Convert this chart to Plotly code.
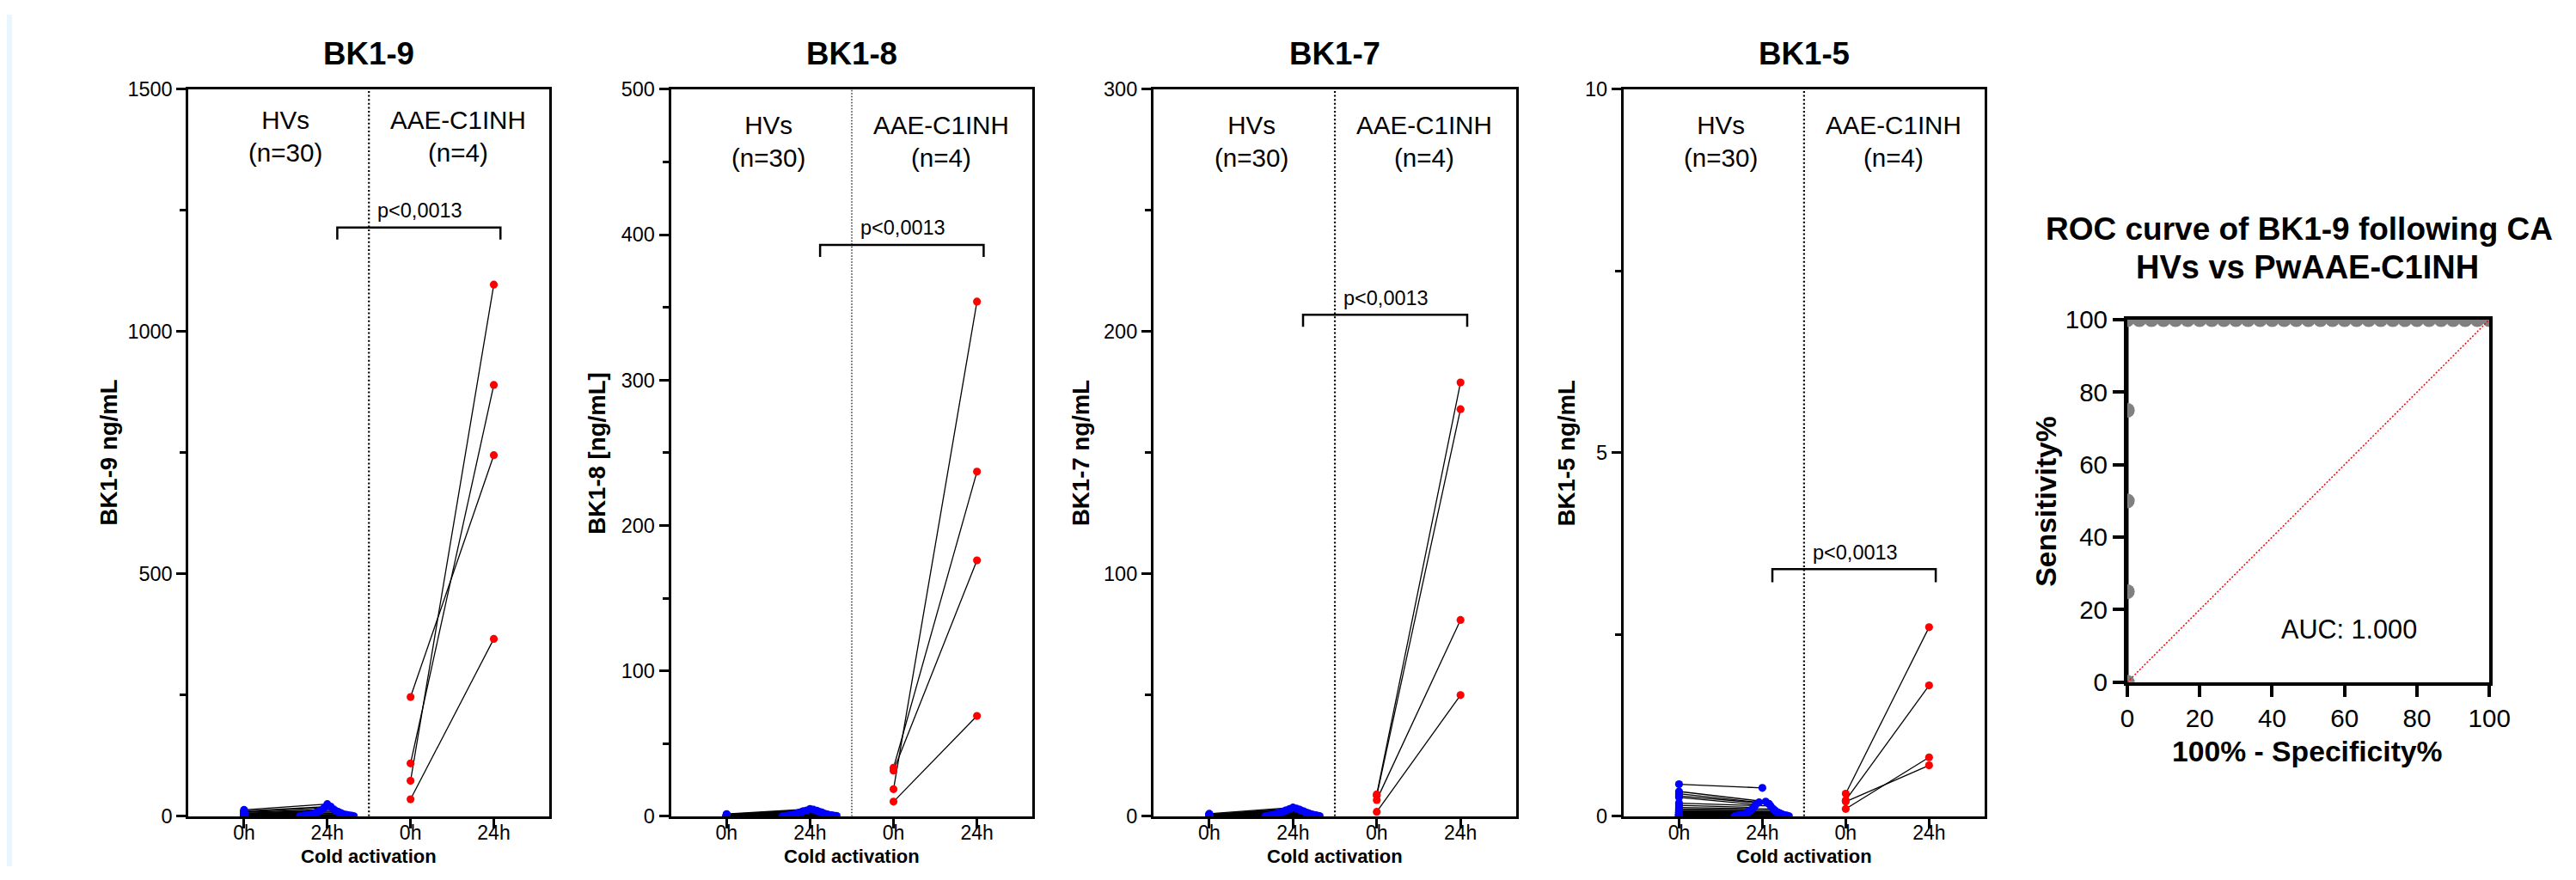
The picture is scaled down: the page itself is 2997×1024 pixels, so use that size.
import plotly.graph_objects as go

W, H = 2997, 1024
FONT = "Liberation Sans, Arial, Helvetica, sans-serif"

# ---------------- data ----------------
PANEL_TITLES = ["BK1-9", "BK1-8", "BK1-7", "BK1-5"]
Y_TITLES = ["BK1-9 ng/mL", "BK1-8 [ng/mL]", "BK1-7 ng/mL", "BK1-5 ng/mL"]
X_TICK_LABELS = ["0h", "24h", "0h", "24h"]
X_TITLE = "Cold activation"
HV_LABEL = "HVs<br>(n=30)"
AAE_LABEL = "AAE-C1INH<br>(n=4)"
P_LABEL = "p<0,0013"

Y_MAX = [1500, 500, 300, 10]
Y_MAJOR = [[0, 500, 1000, 1500], [0, 100, 200, 300, 400, 500], [0, 100, 200, 300], [0, 5, 10]]
Y_MINOR = [[250, 750, 1250], [50, 150, 250, 350, 450], [50, 150, 250], [2.5, 7.5]]

# BK1-9
BK19_HV_0H = [13, 11, 9, 8, 6, 5, 4, 4, 3, 3, 2, 2, 2, 1, 1, 1, 1, 0, 0, 0, 0, 0, 0, 0, 0, 0, 0, 0, 0, 0]
BK19_HV_24H = [25, 20, 17, 14, 12, 11, 10, 9, 8, 7, 6, 6, 5, 4, 4, 3, 3, 3, 2, 2, 2, 1, 1, 1, 1, 0, 0, 0, 0, 0]
BK19_AAE_0H = [246, 109, 73, 35]
BK19_AAE_24H = [745, 890, 1097, 366]
# BK1-8
BK18_HV_0H = [1.5, 1.2, 1, 0.8, 0.6, 0.5, 0.4, 0.3, 0.3, 0.2, 0.2, 0.1, 0.1, 0.1, 0, 0, 0, 0, 0, 0, 0, 0, 0, 0, 0, 0, 0, 0, 0, 0]
BK18_HV_24H = [5, 4.5, 4, 3.8, 3.5, 3.2, 3, 2.8, 2.5, 2.3, 2, 1.8, 1.6, 1.5, 1.3, 1.2, 1, 0.9, 0.8, 0.7, 0.6, 0.5, 0.4, 0.3, 0.3, 0.2, 0.1, 0.1, 0, 0]
BK18_AAE_0H = [18.6, 33.3, 31.4, 10]
BK18_AAE_24H = [354, 237, 176, 69]
# BK1-7
BK17_HV_0H = [1, 0.8, 0.6, 0.5, 0.4, 0.3, 0.3, 0.2, 0.2, 0.1, 0.1, 0.1, 0, 0, 0, 0, 0, 0, 0, 0, 0, 0, 0, 0, 0, 0, 0, 0, 0, 0]
BK17_HV_24H = [3.6, 3.2, 3, 2.7, 2.5, 2.3, 2.1, 2, 1.8, 1.6, 1.5, 1.4, 1.2, 1.1, 1, 0.9, 0.8, 0.7, 0.6, 0.5, 0.4, 0.4, 0.3, 0.2, 0.2, 0.1, 0.1, 0, 0, 0]
BK17_AAE_0H = [9, 8.5, 6.7, 1.8]
BK17_AAE_24H = [179, 168, 81, 50]
# BK1-5
BK15_HV_0H = [0.44, 0.34, 0.31, 0.28, 0.26, 0.18, 0.15, 0.12, 0.1, 0.08, 0.07, 0.06, 0.05, 0.05, 0.04, 0.03, 0.03, 0.02, 0.02, 0.02, 0.01, 0.01, 0.01, 0, 0, 0, 0, 0, 0, 0]
BK15_HV_24H = [0.39, 0.2, 0.19, 0.17, 0.16, 0.14, 0.12, 0.1, 0.09, 0.08, 0.07, 0.06, 0.06, 0.05, 0.04, 0.04, 0.03, 0.03, 0.02, 0.02, 0.02, 0.01, 0.01, 0.01, 0.01, 0, 0, 0, 0, 0]
BK15_AAE_0H = [0.31, 0.22, 0.2, 0.1]
BK15_AAE_24H = [2.6, 1.8, 0.7, 0.81]

# horizontal spread of the 24h HV dots (category units)
HV_24H_SPREAD = [0, 0.04, -0.04, 0.08, -0.08, 0.1, -0.1, 0.13, -0.13, 0.15, -0.15, 0.17, -0.17, 0.19, -0.19,
                 0.21, -0.21, 0.23, -0.23, 0.25, -0.25, 0.27, -0.27, 0.29, -0.29, 0.31, -0.31, 0.32, -0.33, 0.2]

# significance brackets (y level in data units)
BRACKET_Y = [1215, 393, 207, 3.40]
BRACKET_DROP = [25, 8.3, 5, 0.18]

# ROC
ROC_TITLE_1 = "ROC curve of BK1-9 following CA"
ROC_TITLE_2 = "HVs vs PwAAE-C1INH"
ROC_FPR = [0, 0, 0, 0, 0, 3.33, 6.67, 10, 13.33, 16.67, 20, 23.33, 26.67, 30, 33.33, 36.67, 40, 43.33,
           46.67, 50, 53.33, 56.67, 60, 63.33, 66.67, 70, 73.33, 76.67, 80, 83.33, 86.67, 90, 93.33, 96.67, 100]
ROC_SENS = [0, 25, 50, 75, 100, 100, 100, 100, 100, 100, 100, 100, 100, 100, 100, 100, 100, 100,
            100, 100, 100, 100, 100, 100, 100, 100, 100, 100, 100, 100, 100, 100, 100, 100, 100]
ROC_TICKS = [0, 20, 40, 60, 80, 100]
AUC_LABEL = "AUC: 1.000"

PANEL_DATA = [
    (BK19_HV_0H, BK19_HV_24H, BK19_AAE_0H, BK19_AAE_24H),
    (BK18_HV_0H, BK18_HV_24H, BK18_AAE_0H, BK18_AAE_24H),
    (BK17_HV_0H, BK17_HV_24H, BK17_AAE_0H, BK17_AAE_24H),
    (BK15_HV_0H, BK15_HV_24H, BK15_AAE_0H, BK15_AAE_24H),
]

# ---------------- geometry, in target-image pixels ----------------
LEFT_PX = [223, 786, 1349, 1897.5]
RIGHT_PX = [644, 1208, 1772.5, 2319]
TOP_PX, BOT_PX = 103, 949
YTITLE_X_PX = [130, 700, 1265, 1831]
GROUP_Y_DOM = [0.936, 0.928, 0.928, 0.928]
ROC_L, ROC_R, ROC_T, ROC_B = 2485.5, 2908, 371, 793

# the photographed page comes out slightly inset/scaled; map target pixels to page pixels
AX, BX = 0.992, 11.0
AY, BY = 0.968, 16.0
S = 1 / 0.98  # size compensation for fonts / marks


def fx(x):
    return ((x - BX) / AX) / W


def fy(y):
    return 1 - ((y - BY) / AY) / H


def fs(v):
    return round(v * S, 1)


fig = go.Figure()
layout = dict(
    width=W, height=H, autosize=False,
    margin=dict(l=0, r=0, t=0, b=0),
    paper_bgcolor="white", plot_bgcolor="white",
    showlegend=False,
    font=dict(family=FONT, color="black"),
    annotations=[], shapes=[],
)

for i in range(4):
    n = "" if i == 0 else str(i + 1)
    xr, yr = "x" + n, "y" + n
    hv0, hv24, a0, a24 = PANEL_DATA[i]

    lx, ly = [], []
    for k in range(len(hv0)):
        lx += [1, 2 + HV_24H_SPREAD[k], None]
        ly += [hv0[k], hv24[k], None]
    for k in range(len(a0)):
        lx += [3, 4, None]
        ly += [a0[k], a24[k], None]
    fig.add_trace(go.Scatter(x=lx, y=ly, mode="lines", xaxis=xr, yaxis=yr,
                             line=dict(color="black", width=1.3), hoverinfo="skip"))
    fig.add_trace(go.Scatter(x=[1] * len(hv0) + [2 + s for s in HV_24H_SPREAD[:len(hv24)]],
                             y=hv0 + hv24, mode="markers", xaxis=xr, yaxis=yr,
                             marker=dict(color="#0000ff", size=fs(9), line=dict(width=0))))
    fig.add_trace(go.Scatter(x=[3] * len(a0) + [4] * len(a24), y=a0 + a24, mode="markers",
                             xaxis=xr, yaxis=yr,
                             marker=dict(color="#ff0000", size=fs(9), line=dict(width=0))))

    layout["xaxis" + n] = dict(
        domain=[fx(LEFT_PX[i]), fx(RIGHT_PX[i])], anchor=yr,
        range=[1 / 3, 14 / 3], tickmode="array", tickvals=[1, 2, 3, 4], ticktext=X_TICK_LABELS,
        ticks="outside", ticklen=11, tickwidth=3, tickcolor="black", ticklabelstandoff=-14,
        showline=True, linewidth=3, linecolor="black", mirror=True,
        showgrid=False, zeroline=False, fixedrange=True,
        tickfont=dict(family=FONT, size=23, color="black"),
    )
    layout["yaxis" + n] = dict(
        domain=[fy(BOT_PX), fy(TOP_PX)], anchor=xr,
        range=[0, Y_MAX[i]], tickmode="array", tickvals=Y_MAJOR[i],
        ticktext=[str(v) for v in Y_MAJOR[i]],
        ticks="outside", ticklen=11, tickwidth=3, tickcolor="black",
        minor=dict(tickmode="array", tickvals=Y_MINOR[i], ticks="outside", ticklen=7,
                   tickwidth=3, tickcolor="black", showgrid=False),
        showline=True, linewidth=3, linecolor="black", mirror=True,
        showgrid=False, zeroline=False, fixedrange=True,
        tickfont=dict(family=FONT, size=fs(23), color="black"),
    )

    layout["shapes"].append(dict(
        type="line", xref=xr, yref=yr, x0=2.5, x1=2.5, y0=0, y1=Y_MAX[i],
        line=dict(color="black", width=1.2 if i == 1 else 2.2,
                  dash="1.5px,2px" if i == 1 else "2px,2.6px")))
    yb, dr = BRACKET_Y[i], BRACKET_DROP[i]
    layout["shapes"].append(dict(
        type="path", xref=xr, yref=yr,
        path=f"M 2.12,{yb - dr} L 2.12,{yb} L 4.08,{yb} L 4.08,{yb - dr}",
        line=dict(color="black", width=2.5)))
    layout["annotations"].append(dict(
        text=P_LABEL, xref=xr, yref=yr, x=2.58, y=yb, xanchor="left", yanchor="middle",
        yshift=19.5, showarrow=False, font=dict(family=FONT, size=fs(23), color="black")))
    for txt, xv in ((HV_LABEL, 1.5), (AAE_LABEL, 3.57)):
        layout["annotations"].append(dict(
            text=txt, xref=xr, yref=yr + " domain", x=xv, y=GROUP_Y_DOM[i],
            xanchor="center", yanchor="middle", align="center", showarrow=False,
            font=dict(family=FONT, size=fs(29), color="black")))
    cx = (LEFT_PX[i] + RIGHT_PX[i]) / 2
    layout["annotations"].append(dict(
        text=PANEL_TITLES[i], xref="paper", yref="paper", x=fx(cx), y=fy(62),
        xanchor="center", yanchor="middle", showarrow=False,
        font=dict(family=FONT, size=fs(36), color="black", weight="bold")))
    # x title sits against the bottom edge of the page
    layout["annotations"].append(dict(
        text=X_TITLE, xref="paper", yref="paper", x=fx(cx), y=0,
        xanchor="center", yanchor="bottom", yshift=-3, showarrow=False,
        font=dict(family=FONT, size=22, color="black", weight="bold")))
    layout["annotations"].append(dict(
        text=Y_TITLES[i], xref="paper", yref="paper", x=fx(YTITLE_X_PX[i]), y=fy((TOP_PX + BOT_PX) / 2),
        xanchor="center", yanchor="middle", textangle=-90, showarrow=False,
        font=dict(family=FONT, size=fs(27), color="black", weight="bold")))

# ---------------- ROC panel ----------------
fig.add_trace(go.Scatter(x=ROC_FPR, y=ROC_SENS, mode="lines", xaxis="x5", yaxis="y5",
                         line=dict(color="black", width=3), hoverinfo="skip"))
fig.add_trace(go.Scatter(x=ROC_FPR, y=ROC_SENS, mode="markers", xaxis="x5", yaxis="y5",
                         marker=dict(color="#808080", size=fs(17), line=dict(width=0))))
roc_axis = dict(
    range=[0, 100], tickmode="array", tickvals=ROC_TICKS, ticktext=[str(v) for v in ROC_TICKS],
    ticks="outside", ticklen=13, tickwidth=4, tickcolor="black",
    showline=True, linewidth=4, linecolor="black", mirror=True,
    showgrid=False, zeroline=False, fixedrange=True,
    tickfont=dict(family=FONT, size=fs(29), color="black"))
layout["xaxis5"] = dict(domain=[fx(ROC_L), fx(ROC_R)], anchor="y5", **roc_axis)
layout["yaxis5"] = dict(domain=[fy(ROC_B), fy(ROC_T)], anchor="x5", **roc_axis)
layout["shapes"].append(dict(type="line", xref="x5", yref="y5", x0=0, y0=0, x1=100, y1=100,
                             line=dict(color="#ff0000", width=1.5, dash="2px,2px")))
layout["annotations"] += [
    dict(text=AUC_LABEL, xref="x5", yref="y5", x=61.3, y=14.7, xanchor="center", yanchor="middle",
         showarrow=False, font=dict(family=FONT, size=fs(30), color="black")),
    dict(text=ROC_TITLE_1, xref="paper", yref="paper", x=fx(2388), y=fy(266), xanchor="left",
         yanchor="middle", showarrow=False,
         font=dict(family=FONT, size=37, color="black", weight="bold")),
    dict(text=ROC_TITLE_2, xref="paper", yref="paper", x=fx(2696), y=fy(310), xanchor="center",
         yanchor="middle", showarrow=False,
         font=dict(family=FONT, size=38, color="black", weight="bold")),
    dict(text="Sensitivity%", xref="paper", yref="paper", x=fx(2390), y=fy(582), xanchor="center",
         yanchor="middle", textangle=-90, showarrow=False,
         font=dict(family=FONT, size=fs(33), color="black", weight="bold")),
    dict(text="100% - Specificity%", xref="paper", yref="paper", x=fx(2696), y=fy(873),
         xanchor="center", yanchor="middle", showarrow=False,
         font=dict(family=FONT, size=fs(33), color="black", weight="bold")),
]

# light blue strip at the left edge of the screenshot
layout["shapes"].append(dict(type="rect", xref="paper", yref="paper", x0=0, x1=fx(17), y0=0, y1=1,
                             fillcolor="#eaf6fd", line=dict(width=0), layer="below"))

fig.update_layout(**layout)
fig.write_html("out.html", config={"displayModeBar": False},
               post_script="document.body.style.margin='0px';document.body.style.overflow='hidden';")
